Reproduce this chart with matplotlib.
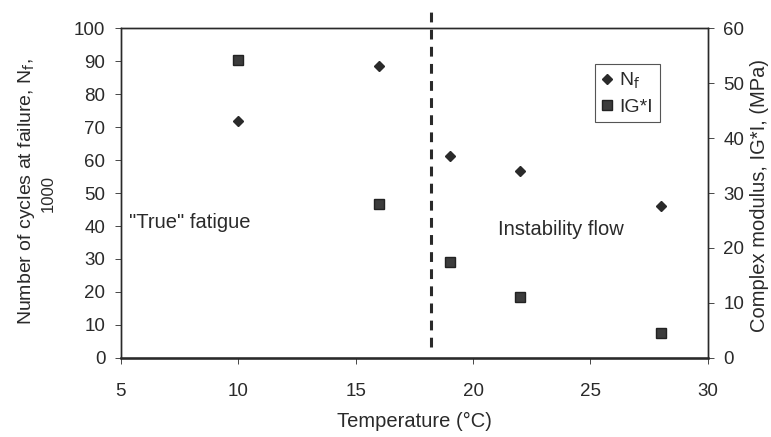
import matplotlib
matplotlib.use("Agg")
import matplotlib.pyplot as plt

plt.rcParams['font.family'] = ['Liberation Sans', 'DejaVu Sans']

temps = [10, 16, 19, 22, 28]
nf = [72, 88.6, 61.3, 56.7, 46.1]
gstar = [54.2, 28.0, 17.5, 11.1, 4.6]
boundary_temp = 18.2

ink = '#2a2a2a'

fig = plt.figure(figsize=(7.71, 4.37), dpi=100)
ax = fig.add_axes([0.1565, 0.181, 0.7617, 0.7545])
ax2 = ax.twinx()

p1, = ax.plot(temps, nf, linestyle='none', marker='D', markersize=5.5, color=ink, label='N$_\\mathrm{f}$')
p2, = ax2.plot(temps, gstar, linestyle='none', marker='s', markersize=6.5, color='#3c3c3c',
               markeredgecolor='#222222', label='IG*I')

# boundary between the two regimes
ax.plot([boundary_temp, boundary_temp], [3.2, 105.5], linestyle=(0, (3.2, 2.4)), color=ink,
        linewidth=2.2, clip_on=False)

ax.set_xlim(5, 30)
ax.set_ylim(0, 100)
ax2.set_ylim(0, 60)
ax.set_xticks(range(5, 31, 5))
ax.set_yticks(range(0, 101, 10))
ax2.set_yticks(range(0, 61, 10))

for a in (ax, ax2):
    a.tick_params(labelsize=13.5, colors=ink, length=4, width=0.6)
    for s in a.spines.values():
        s.set_color(ink)
        s.set_linewidth(1.0)
ax.tick_params(axis='x', pad=14)
ax.tick_params(axis='y', pad=7)
ax2.tick_params(axis='y', pad=7)
ax.spines['bottom'].set_linewidth(1.8)

ax.set_xlabel('Temperature (°C)', fontsize=14.5, color=ink, va='center')
ax.xaxis.set_label_coords(0.5, -0.192)

ax.set_ylabel('Number of cycles at failure, N$_\\mathrm{f}$,', fontsize=14, color=ink, va='center')
ax.yaxis.set_label_coords(-0.161, 0.504)
ax.text(-0.124, 0.50, '1000', transform=ax.transAxes, rotation=90, fontsize=12,
        color=ink, ha='center', va='center')

ax2.set_ylabel('Complex modulus, IG*I, (MPa)', fontsize=14.5, color=ink, va='center')
ax2.yaxis.set_label_coords(1.088, 0.494)

ax.text(5.35, 41, '"True" fatigue', fontsize=14.5, color=ink, va='center')
ax.text(23.75, 39, 'Instability flow', fontsize=14.5, color=ink, va='center', ha='center')

leg = ax.legend([p1, p2], ['N$_\\mathrm{f}$', 'IG*I'], loc='upper left', bbox_to_anchor=(0.808, 0.891),
                borderaxespad=0, fontsize=14, frameon=True, fancybox=False, handlelength=0.5,
                handletextpad=0.4, borderpad=0.35, labelspacing=0.35)
leg.get_frame().set_edgecolor(ink)
leg.get_frame().set_linewidth(0.8)
for t in leg.get_texts():
    t.set_color(ink)

fig.savefig('out.png', dpi=100)
